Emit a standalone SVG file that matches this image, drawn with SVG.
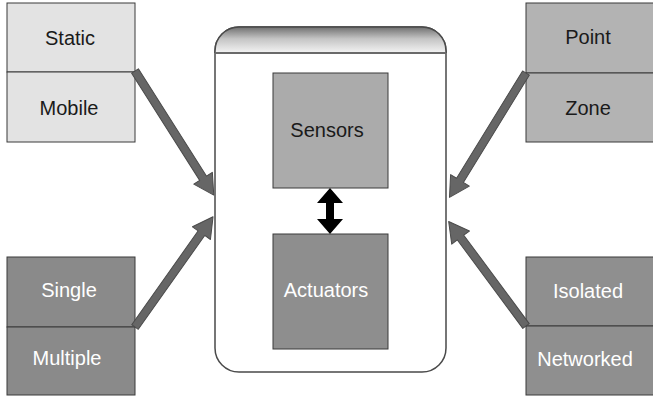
<svg xmlns="http://www.w3.org/2000/svg" width="653" height="397" viewBox="0 0 653 397">
<defs>
<linearGradient id="hdr" gradientUnits="userSpaceOnUse" x1="0" y1="27" x2="0" y2="53">
<stop offset="0" stop-color="#707070"/>
<stop offset="0.45" stop-color="#c4c4c4"/>
<stop offset="1" stop-color="#f4f4f4"/>
</linearGradient>
<clipPath id="hclip"><rect x="215" y="27" width="231" height="26"/></clipPath>
</defs>
<style>
.box{stroke:#3a3a3a;stroke-width:1}
.lt{font-family:"Liberation Sans",Arial,sans-serif;font-size:20px;text-anchor:middle}
.dk{fill:#1a1a1a}
.wh{fill:#ffffff}
.arr{fill:#666666;stroke:#4a4a4a;stroke-width:1;stroke-linejoin:round}
</style>
<rect width="653" height="397" fill="#ffffff"/>

<g id="container">
<rect x="215" y="27" width="231" height="345" rx="24" ry="24" fill="#ffffff" stroke="#4a4a4a" stroke-width="1.5"/>
<rect x="215" y="27" width="231" height="60" rx="24" ry="24" fill="url(#hdr)" clip-path="url(#hclip)"/>
<path d="M215,53 V51 A24,24 0 0 1 239,27 H422 A24,24 0 0 1 446,51 V53" fill="none" stroke="#4a4a4a" stroke-width="1.5"/>
<line x1="215" y1="53" x2="446" y2="53" stroke="#6a6a6a" stroke-width="2"/>
</g>

<g id="sensors">
<rect class="box" x="273" y="73" width="115" height="115" fill="#ababab"/>
<text class="lt dk" x="327" y="137">Sensors</text>
</g>
<g id="actuators">
<rect class="box" x="273" y="234" width="115" height="115" fill="#8e8e8e"/>
<text class="lt wh" x="326" y="297">Actuators</text>
</g>

<g id="static-mobile">
<rect class="box" x="7" y="3" width="128" height="69" fill="#e3e3e3"/>
<rect class="box" x="7" y="72" width="128" height="70" fill="#e3e3e3"/>
<text class="lt dk" x="70" y="45">Static</text>
<text class="lt dk" x="69" y="115">Mobile</text>
</g>
<g id="single-multiple">
<rect class="box" x="7" y="257" width="128" height="70" fill="#8a8a8a"/>
<rect class="box" x="7" y="327" width="128" height="68" fill="#8a8a8a"/>
<text class="lt wh" x="69" y="297">Single</text>
<text class="lt wh" x="67" y="365">Multiple</text>
</g>
<g id="point-zone">
<rect class="box" x="526" y="3" width="130" height="70" fill="#b3b3b3"/>
<rect class="box" x="526" y="73" width="130" height="69" fill="#b3b3b3"/>
<text class="lt dk" x="588" y="44">Point</text>
<text class="lt dk" x="588" y="115">Zone</text>
</g>
<g id="isolated-networked">
<rect class="box" x="526" y="257" width="130" height="69" fill="#8f8f8f"/>
<rect class="box" x="526" y="326" width="130" height="69" fill="#8f8f8f"/>
<text class="lt wh" x="588" y="298">Isolated</text>
<text class="lt wh" x="585" y="366">Networked</text>
</g>

<g id="connectors">
<g transform="translate(135,71) rotate(57.6)">
<polygon class="arr" points="0,-4 127,-4 127,-11 147,0 127,11 127,4 0,4"/>
</g>
<g transform="translate(135,327) rotate(-54.7)">
<polygon class="arr" points="0,-4 115,-4 115,-11 135,0 115,11 115,4 0,4"/>
</g>
<g transform="translate(526,73) rotate(121.6)">
<polygon class="arr" points="0,-4 126,-4 126,-11 146,0 126,11 126,4 0,4"/>
</g>
<g transform="translate(526,326) rotate(-126.5)">
<polygon class="arr" points="0,-4 110,-4 110,-11 130,0 110,11 110,4 0,4"/>
</g>
<polygon fill="#000000" points="330,188 343,203 334,203 334,219 343,219 330,234 317,219 326,219 326,203 317,203"/>
</g>
</svg>
